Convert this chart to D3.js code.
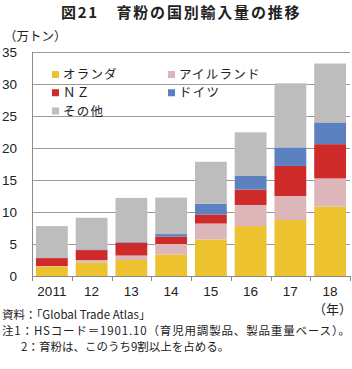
<!DOCTYPE html>
<html>
<head>
<meta charset="utf-8">
<script src="https://cdn.jsdelivr.net/npm/d3@7"></script>
<style>
  html, body { margin: 0; padding: 0; background: #fff; }
  svg { display: block; font-family: "Liberation Sans", Arial, "Noto Sans CJK JP", sans-serif; }
</style>
</head>
<body>
<svg id="chart" width="352" height="369"></svg>
<script>
// ── Data (万トン) ──
const years = ["2011", "12", "13", "14", "15", "16", "17", "18"];
const seriesNames = ["オランダ", "アイルランド", "ＮＺ", "ドイツ", "その他"];
const netherlands = [1.5, 2.1, 2.5, 3.35, 5.7, 7.8, 8.75, 10.85];
const ireland     = [0.05, 0.4, 0.7, 1.65, 2.5, 3.3, 3.75, 4.4];
const newZealand  = [1.25, 1.55, 2.0, 1.15, 1.4, 2.4, 4.7, 5.35];
const germany     = [0, 0.1, 0.1, 0.4, 1.7, 2.2, 2.9, 3.4];
const others      = [5.0, 4.95, 6.9, 5.7, 6.55, 6.75, 10.0, 9.2];
const yTicks = [0, 5, 10, 15, 20, 25, 30, 35];

const colors = ["#ecc22e", "#dcb6b9", "#cf2a2a", "#5c80c0", "#bdbdbd"];
const seriesValues = [netherlands, ireland, newZealand, germany, others];

// table for d3.stack
const table = years.map((y, i) => {
  const row = { year: y };
  seriesNames.forEach((s, k) => row[s] = seriesValues[k][i]);
  return row;
});

const svg = d3.select("#chart");
const plotL = 32, plotR = 350, plotT = 52, plotB = 276;

const x = d3.scaleBand().domain(years).range([plotL, plotR])
  .paddingInner(0.2).paddingOuter(0.1);
const y = d3.scaleLinear().domain([0, 35]).range([plotB, plotT]);

// ── Title ──
const title = svg.append("g")
  .style("font-family", "'Noto Sans CJK JP', sans-serif")
  .style("font-size", "15px").style("font-weight", "bold")
  .attr("fill", "#222");
title.append("text").attr("x", 61).attr("y", 18)
  .attr("textLength", 36).attr("lengthAdjust", "spacing")
  .text("図21");
title.append("text").attr("x", 116.5).attr("y", 18)
  .attr("textLength", 183).attr("lengthAdjust", "spacing")
  .text("育粉の国別輸入量の推移");

// ── Unit ──
svg.append("text")
  .attr("x", 4).attr("y", 41)
  .style("font-family", "'Noto Sans CJK JP', sans-serif")
  .style("font-size", "12.5px").attr("fill", "#222")
  .text("（万トン）");

// ── Gridlines ──
svg.append("g").selectAll("line")
  .data(yTicks.filter(t => t > 0))
  .join("line")
  .attr("x1", plotL).attr("x2", plotR)
  .attr("y1", d => Math.round(y(d)) + 0.5).attr("y2", d => Math.round(y(d)) + 0.5)
  .attr("stroke", "#9a9a9a").attr("stroke-width", 1);

// ── Y labels ──
svg.append("g").selectAll("text")
  .data(yTicks)
  .join("text")
  .attr("x", 17).attr("y", d => y(d) + 5)
  .attr("text-anchor", "end")
  .style("font-size", "13.5px").attr("fill", "#222")
  .text(d => d);

// ── Bars ──
const stacked = d3.stack().keys(seriesNames)(table);
svg.append("g").selectAll("g")
  .data(stacked)
  .join("g")
  .attr("fill", (d, i) => colors[i])
  .selectAll("rect")
  .data(d => d)
  .join("rect")
  .attr("x", d => x(d.data.year))
  .attr("width", x.bandwidth())
  .attr("y", d => y(d[1]))
  .attr("height", d => y(d[0]) - y(d[1]));

// ── Axes lines ──
svg.append("line")
  .attr("x1", plotL + 0.5).attr("x2", plotL + 0.5)
  .attr("y1", plotT).attr("y2", plotB + 5)
  .attr("stroke", "#8a8a8a");
svg.append("line")
  .attr("x1", plotL).attr("x2", plotR)
  .attr("y1", plotB + 0.5).attr("y2", plotB + 0.5)
  .attr("stroke", "#8a8a8a");

// category boundary ticks
const step = x.step();
svg.append("g").selectAll("line")
  .data(d3.range(years.length + 1))
  .join("line")
  .attr("x1", i => Math.round(plotL + i * step) + 0.5)
  .attr("x2", i => Math.round(plotL + i * step) + 0.5)
  .attr("y1", plotB).attr("y2", plotB + 5)
  .attr("stroke", "#8a8a8a");

// ── X labels ──
svg.append("g").selectAll("text")
  .data(years)
  .join("text")
  .attr("x", d => x(d) + x.bandwidth() / 2)
  .attr("y", 296)
  .attr("text-anchor", "middle")
  .style("font-size", "13.5px").attr("fill", "#222")
  .text(d => d);

svg.append("text")
  .attr("x", 352).attr("y", 314)
  .attr("text-anchor", "end")
  .style("font-family", "'Noto Sans CJK JP', sans-serif")
  .style("font-size", "13px").attr("fill", "#222")
  .text("（年）");

// ── Legend ──
const legendPos = [[52, 74.5], [168, 74.5], [52, 92.75], [168, 92.75], [52, 111]];
const legend = svg.append("g").selectAll("g")
  .data(seriesNames)
  .join("g")
  .attr("transform", (d, i) => `translate(${legendPos[i][0]},${legendPos[i][1]})`);
legend.append("rect")
  .attr("x", 0).attr("y", -3.5).attr("width", 7).attr("height", 7)
  .attr("fill", (d, i) => colors[i]);
legend.append("text")
  .attr("x", 11).attr("y", 4.5)
  .style("font-family", "'Noto Sans CJK JP', sans-serif")
  .style("font-size", "12.5px").style("letter-spacing", "1.2px")
  .attr("fill", "#222")
  .text(d => d);

// ── Notes ──
const notes = [
  [2, 319, "資料：「Global Trade Atlas」", null],
  [2, 335, "注1：HSコード＝1901.10（育児用調製品、製品重量ベース）。", 348],
  [21, 351, "2：育粉は、このうち9割以上を占める。", null]
];
const noteText = svg.append("g").selectAll("text")
  .data(notes)
  .join("text")
  .attr("x", d => d[0]).attr("y", d => d[1])
  .style("font-family", "'Noto Sans CJK JP', sans-serif")
  .style("font-size", "11.5px").attr("fill", "#222")
  .text(d => d[2]);
noteText.filter(d => d[3])
  .attr("textLength", d => d[3])
  .attr("lengthAdjust", "spacing");
</script>
</body>
</html>
